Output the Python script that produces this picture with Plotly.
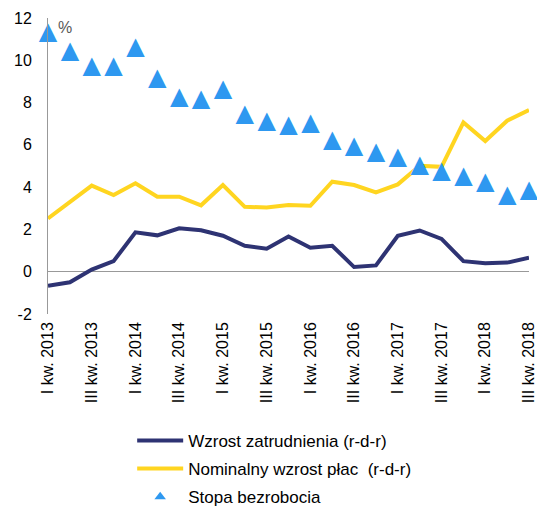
import plotly.graph_objects as go

quarters = []
for yr in range(2013, 2019):
    for q in ["I", "II", "III", "IV"]:
        quarters.append(f"{q} kw. {yr}")
quarters = quarters[:23]

employment = [-0.66, -0.5, 0.1, 0.5, 1.86, 1.72, 2.05, 1.96, 1.7, 1.23, 1.09, 1.67,
              1.13, 1.23, 0.22, 0.3, 1.7, 1.95, 1.55, 0.5, 0.4, 0.43, 0.66]
wages = [2.52, 3.31, 4.07, 3.63, 4.18, 3.55, 3.55, 3.14, 4.1, 3.07, 3.04, 3.15,
         3.12, 4.26, 4.1, 3.75, 4.13, 5.01, 4.96, 7.06, 6.18, 7.14, 7.65]
unemployment = [11.3, 10.4, 9.7, 9.7, 10.6, 9.1, 8.2, 8.1, 8.6, 7.4, 7.1, 6.9,
                7.0, 6.2, 5.9, 5.6, 5.4, 5.0, 4.7, 4.5, 4.2, 3.6, 3.8]

tick_labels = quarters[::2]
y_ticks = [-2, 0, 2, 4, 6, 8, 10, 12]
y_ticktext = [str(v) for v in y_ticks]

names = ["Wzrost zatrudnienia (r-d-r)", "Nominalny wzrost płac  (r-d-r)", "Stopa bezrobocia"]
BLUE = "#2E98F0"

fig = go.Figure()
fig.add_trace(go.Scatter(x=quarters, y=employment, mode="lines", name=names[0],
                         line=dict(color="#2E3373", width=4), legendgroup="a"))
fig.add_trace(go.Scatter(x=quarters, y=wages, mode="lines", name=names[1],
                         line=dict(color="#FFD520", width=4), legendgroup="b"))
# triangles drawn as glyphs (taller than plotly's triangle symbol)
fig.add_trace(go.Scatter(x=quarters, y=unemployment, mode="text", text=["▲"] * len(unemployment),
                         textposition="middle center",
                         textfont=dict(family="DejaVu Sans", size=24, color=BLUE),
                         cliponaxis=False, showlegend=False, hoverinfo="skip"))
# legend entry
fig.add_trace(go.Scatter(x=[None], y=[None], mode="markers", name=names[2],
                         marker=dict(symbol="triangle-up", size=10, color=BLUE),
                         legendgroup="c"))

fig.update_layout(
    width=537, height=506,
    margin=dict(l=48, r=8, t=18, b=192, autoexpand=False),
    paper_bgcolor="white", plot_bgcolor="white",
    font=dict(family="Liberation Sans, Arial, sans-serif", size=15, color="#000"),
    showlegend=True,
    legend=dict(orientation="v", x=0.175, xanchor="left", y=-0.368, yanchor="top",
                font=dict(size=17), tracegroupgap=3, itemwidth=46,
                bgcolor="rgba(0,0,0,0)"),
    annotations=[dict(text="%", x=quarters[0], y=11.55, xref="x", yref="y",
                      xshift=17, showarrow=False, font=dict(size=16, color="#595959"),
                      xanchor="center", yanchor="middle")],
)
fig.update_xaxes(type="category", range=[0, 22], tickmode="array", tickvals=tick_labels,
                 ticktext=tick_labels, tickangle=-90, tickfont=dict(size=16),
                 ticklabelstandoff=4,
                 showgrid=False, showline=False, ticks="", zeroline=False)
fig.update_yaxes(range=[-2, 12], tickmode="array", tickvals=y_ticks, ticktext=y_ticktext,
                 showgrid=False, showline=True,
                 linecolor="#999999", linewidth=1, ticks="", zeroline=True,
                 zerolinecolor="#999999", zerolinewidth=1, ticklabelstandoff=12,
                 tickfont=dict(size=16))

fig.write_html("out.html", config={"displayModeBar": False},
               post_script="document.body.style.margin='0';document.body.style.overflow='hidden';")
